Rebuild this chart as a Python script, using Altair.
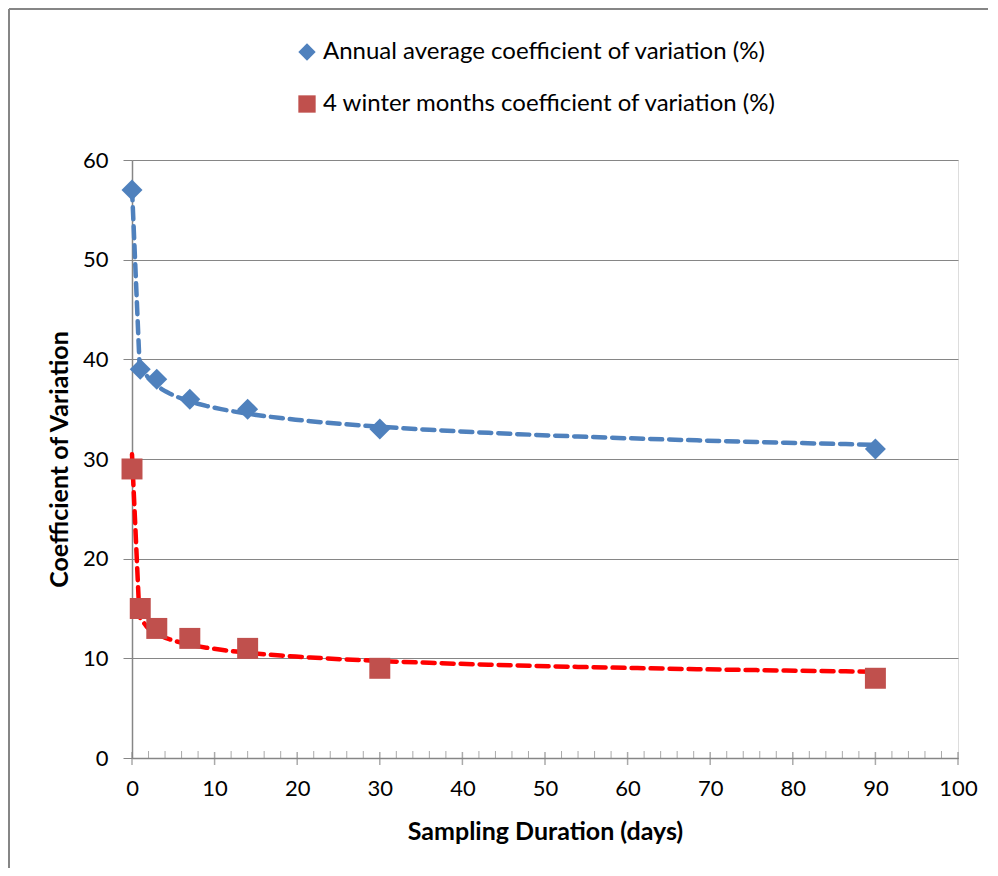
import altair as alt
import pandas as pd

# ---- data ----
days = [0.000694, 1, 3, 7, 14, 30, 90]
annual_cv = [57, 39, 38, 36, 35, 33, 31]
winter_cv = [29, 15, 13, 12, 11, 9, 8]
series_names = ["Annual average coefficient of variation (%)",
                "4 winter months coefficient of variation (%)"]
x_major = [0, 10, 20, 30, 40, 50, 60, 70, 80, 90, 100]
x_minor = [v for v in range(0, 101, 2) if v % 10 != 0]
y_ticks = [0, 10, 20, 30, 40, 50, 60]

rows = []
for d, a in zip(days, annual_cv):
    rows.append({"days": d, "cv": a, "series": series_names[0]})
for d, w in zip(days, winter_cv):
    rows.append({"days": d, "cv": w, "series": series_names[1]})
df = pd.DataFrame(rows)

FONT = "Lato"
GRAY = "#868686"
W, H = 826, 598

xscale = alt.Scale(domain=[0, 100], nice=False, zero=False)
yscale = alt.Scale(domain=[0, 60], nice=False)

legend_def = alt.Legend(title=None, orient="none", legendX=163, legendY=-120,
                        direction="vertical", labelFont=FONT,
                        labelFontSize=24, labelColor="#000",
                        symbolSize=300, rowPadding=28, labelOffset=4,
                        symbolStrokeWidth=0, labelLimit=700)

base = alt.Chart(df)

points = base.mark_point(filled=True, opacity=1, strokeWidth=0, size=440).encode(
    x=alt.X("days:Q", scale=xscale,
            axis=alt.Axis(values=x_major, ticks=False, grid=False,
                          domainColor=GRAY, domainWidth=1.5,
                          labelFont=FONT, labelFontSize=22, labelColor="#000",
                          labelPadding=20, labelFlush=False,
                          title="Sampling Duration (days)", titleFont=FONT,
                          titleFontSize=25, titleFontWeight="bold",
                          titleColor="#000", titlePadding=20)),
    y=alt.Y("cv:Q", scale=yscale,
            axis=alt.Axis(values=y_ticks, tickSize=9, tickColor=GRAY,
                          grid=True, gridColor=GRAY, gridWidth=1,
                          domainColor=GRAY, domainWidth=1.5,
                          labelFont=FONT, labelFontSize=22, labelColor="#000",
                          labelPadding=15, labelFlush=False,
                          title="Coefficient of Variation", titleFont=FONT,
                          titleFontSize=25, titleFontWeight="bold",
                          titleColor="#000", titlePadding=10)),
    color=alt.Color("series:N",
                    scale=alt.Scale(domain=series_names, range=["#4F81BD", "#C0504D"]),
                    legend=legend_def),
    shape=alt.Shape("series:N",
                    scale=alt.Scale(domain=series_names, range=["diamond", "square"]),
                    legend=legend_def),
)

# trendline colours (domain listed in a different order so its hidden legend
# is not merged with the marker legend)
trend = base.transform_regression(
    "days", "cv", method="pow", groupby=["series"]
).mark_line(strokeWidth=4.5, strokeDash=[12, 7], strokeCap="round").encode(
    x=alt.X("days:Q", scale=xscale),
    y=alt.Y("cv:Q", scale=yscale),
    stroke=alt.Stroke("series:N",
                      scale=alt.Scale(domain=[series_names[1], series_names[0]],
                                      range=["#FF0000", "#4F81BD"]),
                      legend=None),
)

tick_df_major = pd.DataFrame({"t": x_major})
tick_df_minor = pd.DataFrame({"t": x_minor})

major_ticks = alt.Chart(tick_df_major).mark_tick(
    orient="vertical", color=GRAY, thickness=1.5, size=13
).encode(x=alt.X("t:Q", scale=xscale), y=alt.value(H + 0.5))

minor_ticks = alt.Chart(tick_df_minor).mark_tick(
    orient="vertical", color=GRAY, thickness=1, size=7
).encode(x=alt.X("t:Q", scale=xscale), y=alt.value(H - 3.5))

frame_df = pd.DataFrame({"k": [0]})
left_border = alt.Chart(frame_df).mark_rule(color=GRAY, strokeWidth=2).encode(
    x=alt.value(-123), y=alt.value(-151), y2=alt.value(730))
top_border = alt.Chart(frame_df).mark_rule(color=GRAY, strokeWidth=2).encode(
    x=alt.value(-123), x2=alt.value(870), y=alt.value(-151))

chart = alt.layer(
    major_ticks, minor_ticks, trend, points, left_border, top_border
).properties(
    width=W, height=H,
    autosize=alt.AutoSizeParams(type="none"),
    padding={"left": 124, "top": 152, "right": 30, "bottom": 110},
).configure_view(stroke=None).configure(background="white")

chart.save("out.html", embed_options={"renderer": "svg", "actions": False})
